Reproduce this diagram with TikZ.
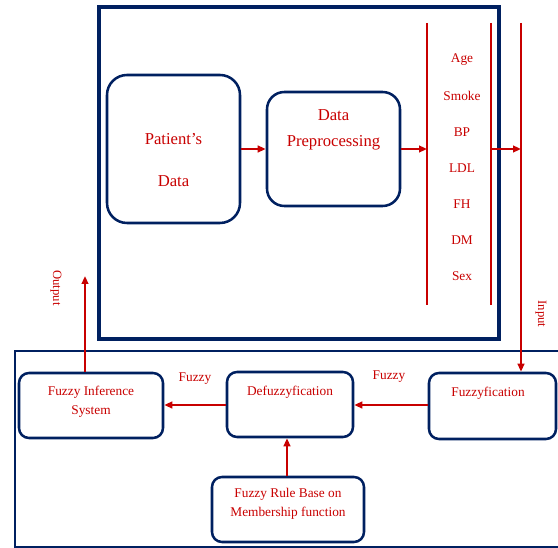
\documentclass[tikz,border=0pt]{standalone}
\usepackage{fontspec}
\setmainfont{Liberation Serif}
\usetikzlibrary{arrows.meta}

\definecolor{navy}{RGB}{0,32,96}
\definecolor{darkred}{RGB}{200,0,0}

\tikzset{every picture/.style={line width=0.75pt}}
\tikzset{
  rbox/.style={draw=navy, line width=1.9pt, rounded corners=7.5pt, inner sep=0pt},
  txt/.style={text=darkred, inner sep=0.75pt, align=center, font=\fontsize{10}{14}\selectfont},
  bigtxt/.style={text=darkred, inner sep=0.75pt, align=center, font=\fontsize{12.5}{20}\selectfont},
  wire/.style={draw=darkred, line width=1.5pt},
  arr/.style={wire, -{Triangle[length=6pt,width=5pt]}}
}

\begin{document}
\begin{tikzpicture}[x=0.75pt,y=0.75pt,yscale=-1,xscale=1]
\useasboundingbox (0,0) rectangle (558,548);

%Shape: Rectangle [upper frame]
\draw [draw=navy, line width=3pt] (99,7) rectangle (499,339) ;
%Shape: Rectangle [lower frame, open to the right]
\draw [draw=navy, line width=1.5pt] (560,351) -- (15,351) -- (15,547) -- (560,547) ;

%Shape: Rounded Rect [patient]
\node [rbox, rounded corners=15pt, minimum width=99.75pt, minimum height=111pt] (patient) at (173.5,149) {};
% Text Node
\node [bigtxt] (patienttxt) at (173.5,160) {Patient’s\\[12pt] Data};
%Shape: Rounded Rect [prep]
\node [rbox, rounded corners=13pt, minimum width=99.75pt, minimum height=85.5pt] (prep) at (333.5,149) {};
% Text Node
\node [bigtxt] (preptxt) at (333.5,130) {Data\\Preprocessing};

%Straight Lines [buses]
\coordinate (busa) at (427,23) ;
\coordinate (busb) at (491,23) ;
\coordinate (busc) at (521,23) ;
\draw [wire] (busa) -- (427,305) ;
\draw [wire] (busb) -- (491,305) ;

% Text Node [features]
\foreach \name [count=\i] in {Age,Smoke,BP,LDL,FH,DM,Sex}
  \node [txt] (feat\i) at (462,24+36*\i) {\name};

%Straight Lines [arrows in upper frame]
\draw [arr] (patient.east) -- (prep.west) ;
\draw [arr] (prep.east) -- (prep.east -| busa) ;
\draw [arr] (prep.east -| busb) -- (prep.east -| busc) ;

%Shape: Rounded Rect [lower boxes]
\node [rbox, minimum width=108pt, minimum height=48.75pt] (fis) at (91,405.5) {};
\node [txt] (fistxt) at (91,401.5) {Fuzzy Inference\\System};
\node [rbox, minimum width=94.5pt, minimum height=48.75pt] (defuzz) at (290,404.5) {};
\node [txt] (defuzztxt) at (290,392) {Defuzzyfication};
\node [rbox, minimum width=95.25pt, minimum height=49.5pt] (fuzzy) at (492.5,406) {};
\node [txt] (fuzzytxt) at (488,393) {Fuzzyfication};
\node [rbox, minimum width=114pt, minimum height=48.75pt] (rules) at (288,509.5) {};
\node [txt] (rulestxt) at (288,503.5) {Fuzzy Rule Base on\\Membership function};

%Straight Lines [arrows in lower frame]
\draw [arr] (busc) -- (busc |- fuzzy.north) ;
\draw [arr] (fuzzy.west |- 0,405) -- (defuzz.east |- 0,405) ;
\draw [arr] (defuzz.west |- 0,405) -- (fis.east |- 0,405) ;
\draw [arr] (rules.north -| 287,0) -- (defuzz.south -| 287,0) ;
\coordinate (outend) at (85,276) ;
\draw [arr] (fis.north -| outend) -- (outend) ;

% Text Node [labels]
\node [txt] (fuzzya) at (195,379) {Fuzzy};
\node [txt] (fuzzyb) at (389,377) {Fuzzy};
\node [txt, rotate=-90, font=\fontsize{9.5}{10}\selectfont] (inlabel) at (541,314) {Input};
\node [txt, rotate=-90, font=\fontsize{9.5}{10}\selectfont] (outlabel) at (56,288) {Output};

\end{tikzpicture}
\end{document}
